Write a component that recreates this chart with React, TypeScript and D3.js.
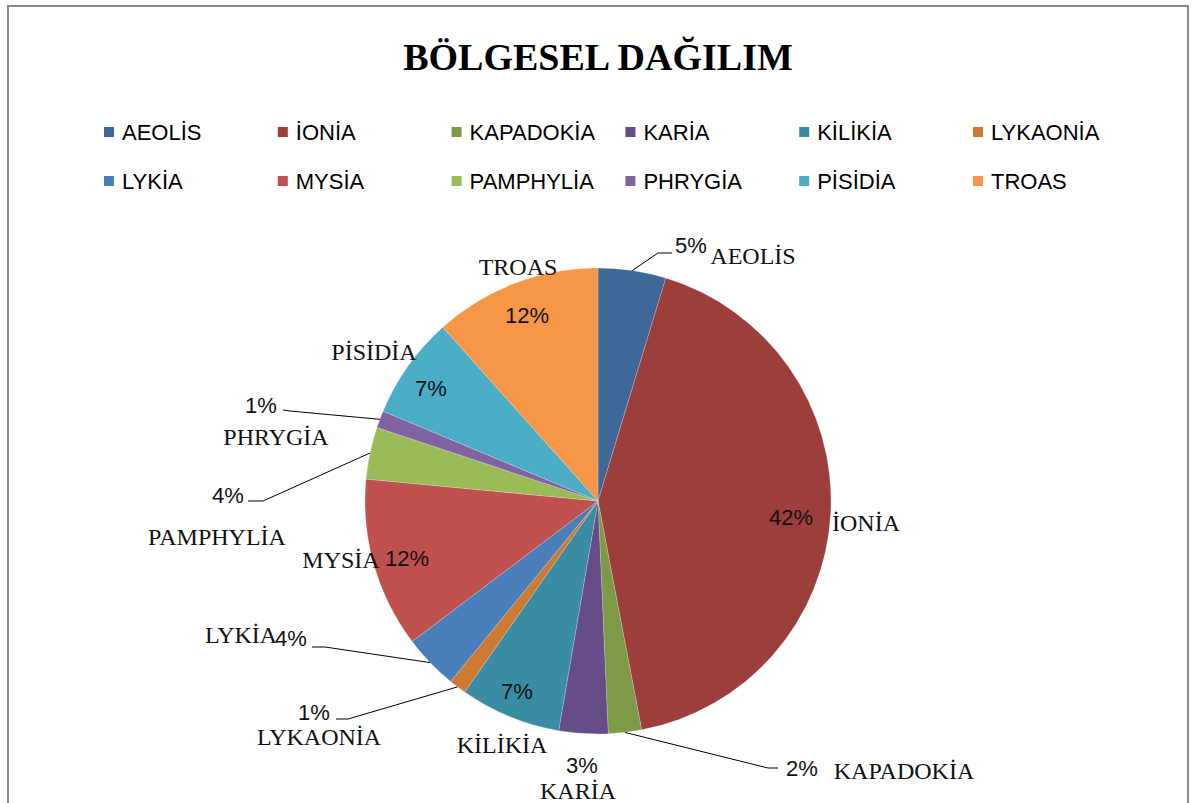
import React from "react";
import * as d3 from "d3";

const TITLE = "BÖLGESEL DAĞILIM";
const categories = ["AEOLİS", "İONİA", "KAPADOKİA", "KARİA", "KİLİKİA", "LYKAONİA", "LYKİA", "MYSİA", "PAMPHYLİA", "PHRYGİA", "PİSİDİA", "TROAS"];
const values = [4.7, 42.3, 2.3, 3.4, 7.0, 1.2, 3.8, 11.8, 3.6, 1.2, 7.1, 11.6];
const colors = ["#3F6899", "#9C3E3C", "#7E9A46", "#664D87", "#3A8CA2", "#CD7A32", "#4A7EBB", "#C0504D", "#9BBB59", "#8064A2", "#4BACC6", "#F79646"];

// label layout (offsets from pie centre), presentation only
const LABEL_LAYOUT: { pct: [number, number]; name: [number, number]; leader?: [number, number][] }[] = [
  { pct: [93, -256], name: [155, -245], leader: [[60, -248], [74, -248]] },
  { pct: [193, 16], name: [268, 22] },
  { pct: [204, 267], name: [306, 270], leader: [[170, 267], [180, 267]] },
  { pct: [-16, 264], name: [-20, 290] },
  { pct: [-81, 190], name: [-96, 244] },
  { pct: [-284, 211], name: [-279, 236], leader: [[-250, 218], [-262, 218]] },
  { pct: [-307, 137], name: [-357, 134], leader: [[-273, 146], [-286, 146]] },
  { pct: [-191, 57], name: [-257, 59] },
  { pct: [-370, -6], name: [-381, 36], leader: [[-335, 0], [-350, 0]] },
  { pct: [-337, -96], name: [-322, -64], leader: [[-308, -90], [-315, -91]] },
  { pct: [-167, -113], name: [-224, -149] },
  { pct: [-71, -186], name: [-80, -234] },
];

const W = 1197;
const H = 803;
const CX = 598;
const CY = 501;
const R = 233;

export default function App() {
  const total = d3.sum(values);
  const pie = d3.pie<number>().sort(null).value((d) => d);
  const arcs = pie(values);
  const arcGen = d3.arc<d3.PieArcDatum<number>>().innerRadius(0).outerRadius(R);
  const fmt = (v: number) => `${Math.round((v / total) * 100)}%`;
  const legendX = d3.scalePoint<number>().domain(d3.range(6)).range([104, 973]);
  const legendY = d3.scalePoint<number>().domain([0, 1]).range([132, 181]);

  return (
    <svg width={W} height={H} style={{ position: "absolute", left: 0, top: 0, background: "#fff" }}>
      <rect x={8} y={6} width={1180} height={830} fill="#fff" stroke="#898989" strokeWidth={2} />
      <text x={CX} y={70} textAnchor="middle" fontFamily="'Liberation Serif', 'DejaVu Serif', serif" fontWeight="bold" fontSize={38} fill="#000">
        {TITLE}
      </text>
      {categories.map((c, i) => {
        const col = i % 6;
        const row = Math.floor(i / 6);
        const x = legendX(col)!;
        const y = legendY(row)!;
        return (
          <g key={c}>
            <rect x={x} y={y - 5} width={10} height={10} fill={colors[i]} />
            <text x={x + 18} y={y} dominantBaseline="central" fontFamily="'Liberation Sans', Arial, sans-serif" fontSize={22} fill="#000">
              {c}
            </text>
          </g>
        );
      })}
      <g transform={`translate(${CX},${CY})`}>
        {arcs.map((a, i) => (
          <path key={i} d={arcGen(a)!} fill={colors[i]} stroke="#fff" strokeWidth={0.4} strokeOpacity={0.5} />
        ))}
        {arcs.map((a, i) => {
          const L = LABEL_LAYOUT[i];
          if (!L.leader) return null;
          const mid = (a.startAngle + a.endAngle) / 2;
          const start: [number, number] = [Math.sin(mid) * R, -Math.cos(mid) * R];
          const line = d3.line()([start, ...L.leader]);
          return <path key={"l" + i} d={line!} fill="none" stroke="#000" strokeWidth={1} />;
        })}
        {arcs.map((a, i) => {
          const L = LABEL_LAYOUT[i];
          return (
            <g key={"t" + i}>
              <text x={L.pct[0]} y={L.pct[1]} textAnchor="middle" dominantBaseline="central" fontFamily="'Liberation Sans', Arial, sans-serif" fontSize={22} fill="#111">
                {fmt(values[i])}
              </text>
              <text x={L.name[0]} y={L.name[1]} textAnchor="middle" dominantBaseline="central" fontFamily="'Liberation Serif', 'DejaVu Serif', serif" fontSize={24} fill="#111">
                {categories[i]}
              </text>
            </g>
          );
        })}
      </g>
    </svg>
  );
}
